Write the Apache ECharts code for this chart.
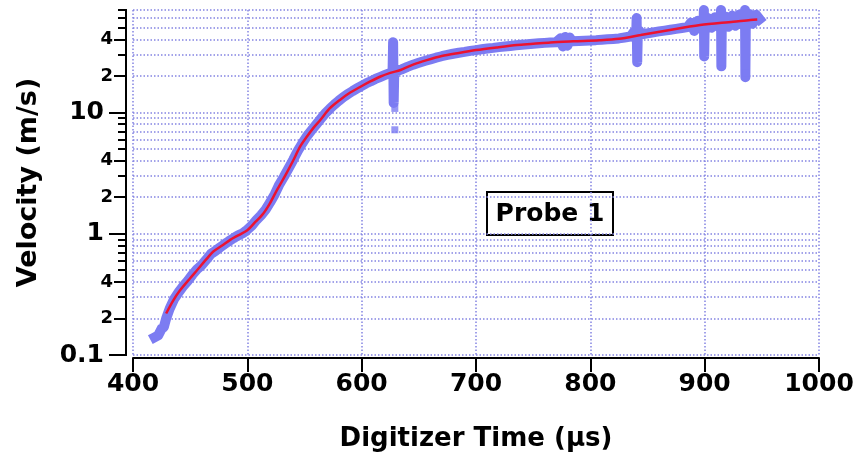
<!DOCTYPE html>
<html>
<head>
<meta charset="utf-8">
<script src="https://cdn.jsdelivr.net/npm/echarts@6/dist/echarts.min.js"></script>
<style>
  html, body { margin: 0; padding: 0; background: #ffffff; }
  #chart { width: 861px; height: 458px; }
</style>
</head>
<body>
<div id="chart"></div>
<script>
// Measured probe velocity (m/s) against digitizer time (µs)
const measuredTime = [
  419, 422, 425, 427, 429, 432, 436, 440, 444, 448, 452, 456, 460, 464, 468, 472,
  476, 480, 484, 488, 492, 496, 500, 504, 508, 512, 516, 520, 524, 528, 532, 536,
  540, 544, 548, 552, 556, 560, 564, 568, 572, 576, 580, 584, 588, 592, 596, 600,
  604, 608, 612, 616, 620, 624, 627, 627.5, 628, 628.5, 630, 635, 640, 645, 650,
  655, 660, 665, 670, 675, 680, 685, 690, 695, 700, 705, 710, 715, 720, 725, 730,
  735, 740, 745, 750, 755, 760, 765, 770, 774, 776, 778, 780, 782, 784, 790, 795, 800, 805,
  810, 815, 820, 825, 830, 835, 838, 840, 840.5, 841, 841.5, 843, 845, 850, 855, 860, 865,
  870, 875, 880, 885, 888, 891, 894, 897, 899, 899.3, 899.6, 900, 903, 906, 909, 912, 914, 914.3, 914.6,
  915, 918, 921, 924, 927, 930, 933, 935, 935.3, 935.6, 936, 939, 942, 945, 948
];
const measuredVelocity = [
  0.14, 0.145, 0.165, 0.17, 0.2, 0.24, 0.29, 0.33, 0.37, 0.41, 0.46, 0.51, 0.55, 0.61, 0.68, 0.72,
  0.77, 0.82, 0.87, 0.92, 0.97, 1.01, 1.08, 1.17, 1.3, 1.42, 1.58, 1.82, 2.12, 2.55, 2.95, 3.45,
  4.05, 4.8, 5.55, 6.35, 7.1, 7.9, 8.8, 9.8, 10.7, 11.6, 12.5, 13.4, 14.2, 15.0, 15.8, 16.6,
  17.4, 18.1, 18.9, 19.6, 20.3, 21.0, 21.4, 38, 12, 21.5, 21.8, 22.7, 23.8, 24.8, 25.7,
  26.6, 27.4, 28.3, 29.1, 29.8, 30.5, 31.1, 31.6, 32.2, 32.7, 33.2, 33.7, 34.1, 34.6, 35.0, 35.4,
  35.8, 36.2, 36.5, 36.9, 37.2, 37.5, 37.8, 38.0, 41, 35, 42, 35.5, 41.5, 38.6, 38.9, 39.1, 39.3, 39.5,
  39.8, 40.1, 40.4, 40.8, 41.5, 42.3, 46, 40, 60, 26, 43.5, 47, 44.0, 44.9, 45.8, 46.6, 47.3,
  48.1, 48.9, 49.7, 50.6, 55, 47, 57, 49, 52.8, 70, 29, 53.0, 60, 50, 61, 51, 54.8, 70, 24,
  55, 62, 51, 63, 52, 64, 53, 57.5, 70, 19.5, 57.6, 65, 54, 64, 58.8
];
// Isolated readings away from the main trace
const strayTime = [629, 629, 915, 936];
const strayVelocity = [10.8, 7.2, 26, 21];

// Smooth fit through the measurements
const fitTime = [
  429, 435, 441, 450, 456, 465, 470, 478, 485, 492, 500, 507, 514, 520, 526, 533,
  540, 546, 552, 558, 564, 572, 581, 590, 599, 608, 616, 625, 634, 645, 657, 670,
  685, 700, 718, 736, 750, 765, 785, 808, 825, 844, 867, 896, 925, 940, 946
];
const fitVelocity = [
  0.22, 0.28, 0.34, 0.43, 0.5, 0.63, 0.71, 0.8, 0.89, 0.97, 1.07, 1.25, 1.47, 1.8, 2.3, 3.0,
  4.0, 5.2, 6.3, 7.5, 8.7, 10.8, 12.7, 14.6, 16.3, 18.1, 19.7, 21.2, 22.4, 24.8, 27.0, 29.2,
  31.0, 32.7, 34.4, 36.0, 36.8, 37.8, 38.6, 39.4, 40.5, 43.5, 47.5, 52.6, 56.0, 58.0, 58.5
];

// Log axis tick values
const decadeTicks = [0.1, 1, 10];
const labelledMinorTicks = [0.2, 0.4, 2, 4, 20, 40];
const gridTicks = [
  0.1, 0.2, 0.3, 0.4, 0.5, 0.6, 0.7, 0.8, 0.9,
  1, 2, 3, 4, 5, 6, 7, 8, 9,
  10, 20, 30, 40, 50, 60, 70
];
const timeMin = 400, timeMax = 1000, timeStep = 100;
const velocityMin = 0.1, velocityMax = 70;

const FONT = '"DejaVu Sans", Verdana, sans-serif';
const gridBlue = '#8484e2';
const dotted = { color: gridBlue, width: 1.5, type: [1.5, 2] };

const pairs = (xs, ys) => xs.map((x, i) => [x, ys[i]]);

function logAxis(extra) {
  return Object.assign({
    type: 'log',
    logBase: 10,
    min: velocityMin,
    max: velocityMax,
    position: 'left',
    offset: 7,
    axisLine: { show: true, lineStyle: { color: '#000', width: 2 } },
    splitLine: { show: false },
    minorTick: { show: false },
    minorSplitLine: { show: false }
  }, extra);
}

const chart = echarts.init(document.getElementById('chart'), null, { renderer: 'canvas' });

chart.setOption({
  animation: false,
  backgroundColor: '#ffffff',
  grid: { left: 133, right: 42, top: 10, bottom: 103, containLabel: false },
  xAxis: {
    type: 'value',
    min: timeMin,
    max: timeMax,
    interval: timeStep,
    offset: 3,
    name: 'Digitizer Time (µs)',
    nameLocation: 'middle',
    nameGap: 68,
    nameTextStyle: { fontFamily: FONT, fontWeight: 'bold', fontSize: 26, color: '#000' },
    axisLine: { lineStyle: { color: '#000', width: 2 } },
    axisTick: { show: true, length: 14, lineStyle: { color: '#000', width: 2 } },
    axisLabel: {
      fontFamily: FONT, fontSize: 25, fontWeight: 'bold', color: '#000', margin: 14,
      formatter: v => String(v)
    },
    splitLine: { show: true, lineStyle: dotted }
  },
  yAxis: [
    logAxis({
      name: 'Velocity (m/s)',
      nameLocation: 'middle',
      nameGap: 84,
      nameTextStyle: { fontFamily: FONT, fontWeight: 'bold', fontSize: 27, color: '#000' },
      axisTick: { show: true, length: 8, customValues: gridTicks, lineStyle: { color: '#000', width: 2 } },
      axisLabel: { show: false },
      splitLine: { show: true, lineStyle: dotted }
    }),
    logAxis({
      axisTick: { show: true, length: 12, customValues: labelledMinorTicks, lineStyle: { color: '#000', width: 2 } },
      axisLabel: {
        show: true,
        customValues: labelledMinorTicks,
        margin: 13,
        fontFamily: FONT, fontSize: 18, fontWeight: 'bold', color: '#000',
        formatter: v => String(Math.round(v / Math.pow(10, Math.floor(Math.log10(v) + 1e-9))))
      }
    }),
    logAxis({
      axisTick: { show: true, length: 17, customValues: decadeTicks, lineStyle: { color: '#000', width: 2 } },
      axisLabel: {
        show: true,
        customValues: decadeTicks,
        margin: 22,
        fontFamily: FONT, fontSize: 25, fontWeight: 'bold', color: '#000',
        formatter: v => (v < 1 ? '0.1' : String(Math.round(v)))
      }
    })
  ],
  graphic: [
    {
      type: 'group',
      left: 486,
      top: 191,
      children: [
        { type: 'rect', shape: { x: 0, y: 0, width: 126, height: 43 },
          style: { fill: '#fff', stroke: '#000', lineWidth: 2 } },
        { type: 'text', x: 63, y: 22,
          style: { text: 'Probe 1', fill: '#000', font: 'bold 25px ' + FONT,
                   textAlign: 'center', textVerticalAlign: 'middle' } }
      ]
    }
  ],
  series: [
    {
      name: 'measured',
      type: 'line',
      yAxisIndex: 0,
      data: pairs(measuredTime, measuredVelocity),
      showSymbol: false,
      symbol: 'none',
      lineStyle: { color: '#7c7cf2', width: 10, join: 'round', cap: 'square' },
      z: 2
    },
    {
      name: 'stray',
      type: 'scatter',
      yAxisIndex: 0,
      data: pairs(strayTime, strayVelocity),
      symbol: 'rect',
      symbolSize: 7,
      itemStyle: { color: '#7c7cf2' },
      z: 2
    },
    {
      name: 'fit',
      type: 'line',
      yAxisIndex: 0,
      data: pairs(fitTime, fitVelocity),
      smooth: 0.3,
      showSymbol: false,
      symbol: 'none',
      lineStyle: { color: '#ec1230', width: 2.5 },
      z: 3
    }
  ]
});
</script>
</body>
</html>
